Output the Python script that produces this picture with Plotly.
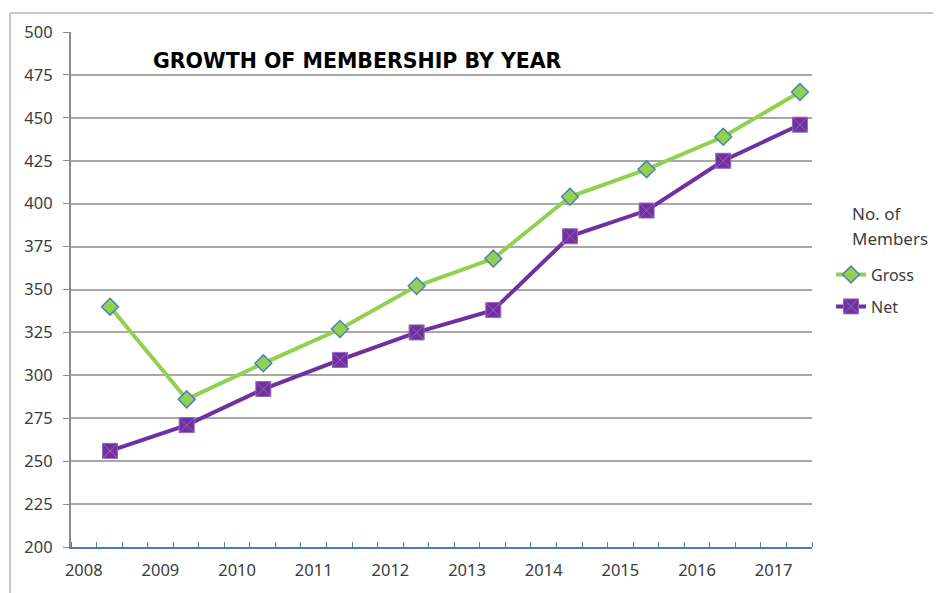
import plotly.graph_objects as go

years = [2008, 2009, 2010, 2011, 2012, 2013, 2014, 2015, 2016, 2017]
gross = [340, 286, 307, 327, 352, 368, 404, 420, 439, 465]
net = [256, 271, 292, 309, 325, 338, 381, 396, 425, 446]
y_ticks = [200, 225, 250, 275, 300, 325, 350, 375, 400, 425, 450, 475, 500]
title_text = "GROWTH OF MEMBERSHIP BY YEAR"
legend_title = ["No. of", "Members"]

W, H = 941, 593
OFF = 8  # page body margin
L, R, T, B = 71 - OFF, 812 - OFF, 29 - OFF, 547 - OFF

x_start = years[0] - 0.509
x_end = x_start + 29 / 3
label_pos = [x_start + 1 / 6 + (y - years[0]) for y in years]
minor_pos = [x_start + k / 3 for k in range(0, 30)]


def px_x(p):
    return (p - OFF - L) / (R - L)


def px_y(p):
    return (B - (p - OFF)) / (B - T)


fig = go.Figure()
fig.add_trace(go.Scatter(
    x=years, y=gross, name="Gross", mode="lines+markers", legendgroup="g1",
    line=dict(color="#92d050", width=4),
    marker=dict(symbol="diamond", size=13, color="#92d050",
                line=dict(color="#4f81bd", width=1.5)),
))
fig.add_trace(go.Scatter(
    x=years, y=net, name="Net", mode="lines+markers", legendgroup="g2",
    line=dict(color="#7030a0", width=4),
    marker=dict(symbol="square-x", size=15, color="#7030a0",
                line=dict(color="#9466bd", width=1)),
))

fig.update_layout(
    width=W, height=H,
    margin=dict(l=L, r=W - R, t=T, b=H - B),
    paper_bgcolor="white", plot_bgcolor="white",
    font=dict(family="Noto Sans", size=16.5, color="#3c3c3c"),
    showlegend=True,
    legend=dict(
        x=px_x(831), y=px_y(256), xanchor="left", yanchor="top",
        font=dict(family="Noto Sans", size=16, color="#3c3c3c"),
        bgcolor="rgba(0,0,0,0)", tracegroupgap=8,
    ),
    xaxis=dict(
        range=[x_start, x_end], tickmode="array",
        tickvals=label_pos, ticktext=[str(y) for y in years],
        ticks="", showgrid=False, zeroline=False,
        showline=True, linecolor="#4a7ebb", linewidth=2,
        ticklabelstandoff=7,
        minor=dict(tickmode="array", tickvals=minor_pos, ticks="inside",
                   ticklen=5, tickcolor="#4a7ebb", tickwidth=1, showgrid=False),
    ),
    yaxis=dict(
        range=[200, 500], tickmode="array", tickvals=y_ticks,
        ticks="outside", ticklen=6, tickcolor="#8c8c8c", tickwidth=1,
        showgrid=True, gridcolor="#a8a8a8", gridwidth=1.5,
        zeroline=False, showline=True, linecolor="#8c8c8c", linewidth=2,
        ticklabelstandoff=7,
    ),
    annotations=[
        dict(text="<b>" + title_text + "</b>", xref="paper", yref="paper",
             x=px_x(357), y=px_y(58), xanchor="center", yanchor="middle",
             showarrow=False,
             font=dict(family="DejaVu Sans", size=20.5, color="#000000")),
        dict(text=legend_title[0], xref="paper", yref="paper",
             x=px_x(850), y=px_y(212), xanchor="left", yanchor="middle",
             showarrow=False, font=dict(family="Noto Sans", size=17, color="#3c3c3c")),
        dict(text=legend_title[1], xref="paper", yref="paper",
             x=px_x(850), y=px_y(237), xanchor="left", yanchor="middle",
             showarrow=False, font=dict(family="Noto Sans", size=17, color="#3c3c3c")),
    ],
    shapes=[
        dict(type="line", xref="paper", yref="paper",
             x0=px_x(10), x1=px_x(950), y0=px_y(10), y1=px_y(10),
             line=dict(color="#c8c8c8", width=2)),
        dict(type="line", xref="paper", yref="paper",
             x0=px_x(10), x1=px_x(10), y0=px_y(10), y1=px_y(610),
             line=dict(color="#c8c8c8", width=2)),
    ],
)

fig.write_html("out.html")
